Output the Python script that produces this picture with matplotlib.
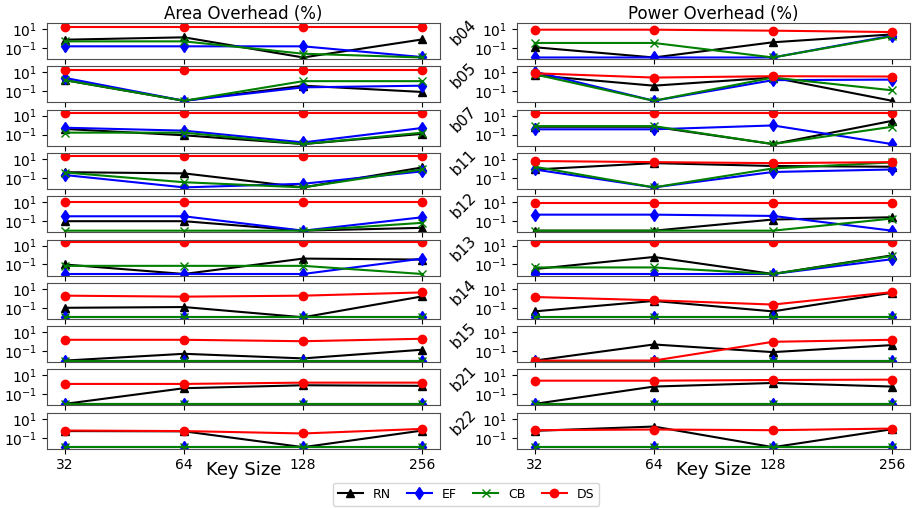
import matplotlib
matplotlib.use('Agg')
import matplotlib.pyplot as plt
from matplotlib.ticker import NullLocator

key_sizes = [32, 64, 128, 256]
benchmarks = ['b04', 'b05', 'b07', 'b11', 'b12', 'b13', 'b14', 'b15', 'b21', 'b22']

# area overhead (%), one row per benchmark, values at 32/64/128/256
area_RN = [[0.75, 1.33, 0.01, 0.8],
           [1.5, 0.01, 0.39, 0.085],
           [0.39, 0.085, 0.01, 0.12],
           [0.4, 0.3, 0.01, 1.27],
           [0.1, 0.1, 0.01, 0.02],
           [0.1, 0.01, 0.42, 0.33],
           [0.1, 0.12, 0.01, 1.6],
           [0.01, 0.052, 0.017, 0.14],
           [0.01, 0.45, 0.92, 0.8],
           [0.5, 0.47, 0.01, 0.57]]
area_EF = [[0.15, 0.15, 0.15, 0.011],
           [2.6, 0.01, 0.26, 0.39],
           [0.53, 0.26, 0.015, 0.5],
           [0.2, 0.01, 0.024, 0.49],
           [0.33, 0.33, 0.01, 0.26],
           [0.01, 0.01, 0.01, 0.42],
           [0.01, 0.01, 0.01, 0.01],
           [0.01, 0.01, 0.01, 0.01],
           [0.01, 0.01, 0.01, 0.01],
           [0.01, 0.01, 0.01, 0.01]]
area_CB = [[0.5, 0.5, 0.025, 0.01],
           [1.5, 0.01, 1.17, 1.17],
           [0.16, 0.16, 0.01, 0.16],
           [0.37, 0.035, 0.01, 0.78],
           [0.01, 0.01, 0.01, 0.067],
           [0.072, 0.072, 0.072, 0.01],
           [0.01, 0.01, 0.01, 0.01],
           [0.01, 0.01, 0.01, 0.01],
           [0.01, 0.01, 0.01, 0.01],
           [0.01, 0.01, 0.01, 0.01]]
area_DS = [[18, 18, 18, 18],
           [17, 17, 17, 17],
           [19, 19, 19, 19],
           [20, 20, 20, 20],
           [9.5, 9.5, 9.5, 9.5],
           [22, 22, 22, 22],
           [1.9, 1.5, 1.9, 4.2],
           [1.56, 1.56, 1.1, 2.0],
           [1.27, 1.27, 1.74, 1.74],
           [0.57, 0.5, 0.28, 0.85]]

# power overhead (%)
power_RN = [[0.12, 0.01, 0.4, 2.7],
            [4.9, 0.39, 2.8, 0.01],
            [0.67, 0.67, 0.01, 2.8],
            [0.77, 3.6, 1.8, 1.5],
            [0.01, 0.01, 0.15, 0.26],
            [0.033, 0.62, 0.01, 0.92],
            [0.042, 0.53, 0.042, 3.9],
            [0.01, 0.5, 0.078, 0.43],
            [0.01, 0.67, 1.6, 0.67],
            [0.53, 1.5, 0.01, 0.78]]
power_EF = [[0.01, 0.01, 0.01, 2.0],
            [11.7, 0.01, 1.5, 1.7],
            [0.36, 0.36, 0.92, 0.01],
            [0.77, 0.01, 0.42, 0.77],
            [0.49, 0.49, 0.36, 0.01],
            [0.01, 0.01, 0.01, 0.36],
            [0.01, 0.01, 0.01, 0.01],
            [0.01, 0.01, 0.01, 0.01],
            [0.01, 0.01, 0.01, 0.01],
            [0.01, 0.01, 0.01, 0.01]]
power_CB = [[0.34, 0.34, 0.01, 1.7],
            [6.2, 0.01, 2.8, 0.127],
            [0.78, 0.78, 0.01, 0.67],
            [1.5, 0.01, 1.0, 4.3],
            [0.01, 0.01, 0.01, 0.19],
            [0.049, 0.049, 0.01, 0.8],
            [0.01, 0.01, 0.01, 0.01],
            [0.01, 0.01, 0.01, 0.01],
            [0.01, 0.01, 0.01, 0.01],
            [0.01, 0.01, 0.01, 0.01]]
power_DS = [[8.5, 8.5, 6.7, 4.8],
            [7.9, 2.8, 3.9, 3.6],
            [19, 19, 19, 19],
            [6.0, 4.6, 3.6, 4.6],
            [9.2, 9.2, 9.2, 9.2],
            [22, 22, 22, 22],
            [1.37, 0.62, 0.22, 4.5],
            [0.01, 0.01, 0.96, 1.56],
            [2.8, 2.8, 3.3, 3.6],
            [0.62, 0.73, 0.62, 0.92]]

styles = [('RN', 'k', '^'), ('EF', 'b', 'd'), ('CB', 'g', 'x'), ('DS', 'r', 'o')]

fig, axes = plt.subplots(nrows=10, ncols=2, sharex=True, figsize=(9.15, 5.08), dpi=100)
fig.subplots_adjust(left=0.0514, right=0.9945, top=0.9547, bottom=0.1167,
                    hspace=0.203, wspace=0.195)

columns = [(area_RN, area_EF, area_CB, area_DS), (power_RN, power_EF, power_CB, power_DS)]

for c, series in enumerate(columns):
    for r in range(len(benchmarks)):
        ax = axes[r, c]
        for vals, (name, col, mk) in zip(series, styles):
            ax.plot(key_sizes, vals[r], color=col, marker=mk, label=name)
        ax.set_xscale('log', base=2)
        ax.set_yscale('log')
        ax.set_ylim(0.0069, 43)
        ax.set_yticks([10, 0.1])
        ax.yaxis.set_minor_locator(NullLocator())
        ax.xaxis.set_minor_locator(NullLocator())
        ax.set_xticks(key_sizes)
        ax.set_xticklabels([str(k) for k in key_sizes])
        for s in ax.spines.values():
            s.set_color('0.3')

axes[0, 0].set_title('Area Overhead (%)', fontsize=12, pad=3)
axes[0, 1].set_title('Power Overhead (%)', fontsize=12, pad=3)
axes[-1, 0].set_xlabel('Key Size', fontsize=13, labelpad=-8)
axes[-1, 1].set_xlabel('Key Size', fontsize=13, labelpad=-8)

# benchmark names between the two columns
for r, name in enumerate(benchmarks):
    pos = axes[r, 1].get_position()
    yc = (pos.y0 + pos.y1) / 2 + 8.5 / 508
    fig.text(464 / 915, yc, name, rotation=45, ha='center', va='center', fontsize=11)

handles, labels = axes[0, 0].get_legend_handles_labels()
fig.legend(handles, labels, loc='center', ncol=4, bbox_to_anchor=(466 / 915, 1 - 494 / 508),
           fontsize=9, columnspacing=1.3)

plt.savefig('out.png')
